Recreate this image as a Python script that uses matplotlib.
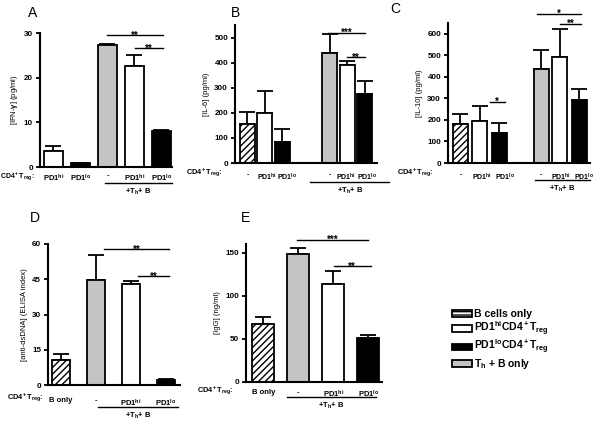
import numpy as np
import matplotlib
matplotlib.use("Agg")
import matplotlib.pyplot as plt
from matplotlib.patches import Patch
from matplotlib.transforms import ScaledTranslation

plt.rcParams['font.family'] = ['Liberation Sans', 'DejaVu Sans']
plt.rcParams['font.weight'] = 'bold'
plt.rcParams['mathtext.fontset'] = 'custom'
plt.rcParams['mathtext.rm'] = 'Liberation Sans:bold'
plt.rcParams['mathtext.it'] = 'Liberation Sans:bold'
plt.rcParams['mathtext.bf'] = 'Liberation Sans:bold'
plt.rcParams['mathtext.default'] = 'rm'
plt.rcParams['hatch.linewidth'] = 1.0

# data (mean, upper error)
ifng_labels = [r"PD1$^{hi}$", r"PD1$^{lo}$", "-", r"PD1$^{hi}$", r"PD1$^{lo}$"]
ifng_mean = [3.5, 0.9, 27.3, 22.7, 8.1]
ifng_err = [1.1, 0.1, 0.3, 2.4, 0.15]

il6_labels = ["-", r"PD1$^{hi}$", r"PD1$^{lo}$", "-", r"PD1$^{hi}$", r"PD1$^{lo}$"]
il6_mean = [155, 198, 85, 440, 390, 275]
il6_err = [50, 89, 52, 73, 15, 52]

il10_labels = ["-", r"PD1$^{hi}$", r"PD1$^{lo}$", "-", r"PD1$^{hi}$", r"PD1$^{lo}$"]
il10_mean = [183, 197, 140, 437, 493, 293]
il10_err = [45, 68, 48, 86, 127, 52]

dsdna_labels = ["B only", "-", r"PD1$^{hi}$", r"PD1$^{lo}$"]
dsdna_mean = [10.5, 44.8, 43.0, 2.3]
dsdna_err = [2.6, 10.7, 1.2, 0.3]

igg_labels = ["B only", "-", r"PD1$^{hi}$", r"PD1$^{lo}$"]
igg_mean = [67, 148, 114, 51]
igg_err = [8, 7, 15, 3]

GRAY = "#c4c4c4"
W, H = 601, 422
fig = plt.figure(figsize=(W / 100, H / 100), dpi=100)


def add_ax(x0, x1, ytop, ybot):
    return fig.add_axes([x0 / W, 1 - ybot / H, (x1 - x0) / W, (ybot - ytop) / H])


def panel(ax, x, mean, err, colors, hatches, width, labels, ylim, yticks, ylabel,
          grp, grp_y, tick_pad, lab_size=5.5):
    for xi, m, c, h in zip(x, mean, colors, hatches):
        ax.bar(xi, m, width=width, color=c, edgecolor='black', linewidth=1.3,
               hatch=h, zorder=2)
    ax.errorbar(x, mean, yerr=[np.zeros(len(err)), err], fmt='none',
                ecolor='black', elinewidth=1.3, capsize=6, capthick=1.3, zorder=1)
    ax.set_ylim(*ylim)
    ax.set_yticks(yticks)
    ax.set_xticks(x)
    ax.set_xticklabels(labels, fontsize=lab_size)
    ax.tick_params(axis='x', length=0, pad=tick_pad)
    ax.tick_params(axis='y', labelsize=5.8, width=1.3, length=3, pad=2)
    for s in ['top', 'right']:
        ax.spines[s].set_visible(False)
    for s in ['left', 'bottom']:
        ax.spines[s].set_linewidth(1.5)
    ax.set_ylabel(ylabel, fontsize=5.5, labelpad=3)
    trans = ax.get_xaxis_transform()
    ax.plot([grp[0], grp[1]], [grp_y, grp_y], color='black', lw=1.0,
            transform=trans, clip_on=False)
    ax.text((grp[0] + grp[1]) / 2, grp_y - 0.025, r"+T$_h$+ B", transform=trans,
            ha='center', va='top', fontsize=5.5)


def nudge(ax, idx, dx_px):
    lab = ax.get_xticklabels()[idx]
    lab.set_transform(lab.get_transform() + ScaledTranslation(dx_px / 100, 0, fig.dpi_scale_trans))


def sig(ax, x0, x1, y, s):
    ax.plot([x0, x1], [y, y], color='black', lw=1.0, clip_on=False)
    ax.annotate(s, ((x0 + x1) / 2, y), xytext=(0, -2.5), textcoords='offset points',
                ha='center', va='baseline', fontsize=7, annotation_clip=False)


def treg_label(x, y, ha='right', size=5.3):
    fig.text(x / W, 1 - y / H, r"CD4$^+$T$_{reg}$:", ha=ha, va='center',
             fontsize=size)


def letter(x, y, s):
    fig.text(x / W, 1 - y / H, s, ha='center', va='center', fontsize=10,
             fontweight='normal')


# A
ax = add_ax(40, 172, 33, 167)
x = np.arange(5)
panel(ax, x, ifng_mean, ifng_err, ['white', 'black', GRAY, 'white', 'black'],
      [None] * 5, 0.7, ifng_labels, (0, 30), [0, 10, 20, 30],
      r"[IFN-$\gamma$] (pg/ml)", (1.9, 4.4), -0.12, 4)
ax.set_xlim(-0.5, 4.39)
sig(ax, 1.98, 4.07, 29.5, "**")
sig(ax, 3.02, 4.07, 26.6, "**")
treg_label(0, 176.5, ha='left', size=5.0)
letter(33, 13, "A")

# B
ax = add_ax(235, 377, 25, 163)
x = np.array([0, 1, 2, 4.7, 5.7, 6.7])
panel(ax, x, il6_mean, il6_err, ['white', 'white', 'black', GRAY, 'white', 'black'],
      ['/////', None, None, None, None, None], 0.86, il6_labels, (0, 550),
      [0, 100, 200, 300, 400, 500], "[IL-6] (pg/ml)", (3.6, 8.1), -0.14, 6, 5.0)
ax.set_xlim(-0.71, 7.4)
nudge(ax, 1, 2)
nudge(ax, 2, 4)
nudge(ax, 4, -1)
nudge(ax, 5, 2)
sig(ax, 4.6, 6.7, 520, "***")
sig(ax, 5.7, 6.7, 421, "**")
treg_label(222, 173)
letter(236, 13, "B")

# C
ax = add_ax(448, 590, 23, 163)
x = np.array([0, 1, 2, 4.13, 5.1, 6.1])
panel(ax, x, il10_mean, il10_err, ['white', 'white', 'black', GRAY, 'white', 'black'],
      ['/////', None, None, None, None, None], 0.77, il10_labels, (0, 650),
      [0, 100, 200, 300, 400, 500, 600], "[IL-10] (pg/ml)", (3.82, 6.64),
      -0.12, 6, 5.0)
ax.set_xlim(-0.64, 6.64)
nudge(ax, 1, 2)
nudge(ax, 2, 5)
nudge(ax, 4, 1)
nudge(ax, 5, 4)
sig(ax, 1.5, 2.28, 284, "*")
sig(ax, 3.9, 6.2, 693, "*")
sig(ax, 5.1, 6.2, 647, "**")
treg_label(433, 173)
letter(395, 9, "C")

# D
ax = add_ax(48, 180, 244, 385)
x = np.arange(4)
panel(ax, x, dsdna_mean, dsdna_err, ['white', GRAY, 'white', 'black'],
      ['/////', None, None, None], 0.51, dsdna_labels, (0, 60),
      [0, 15, 30, 45, 60], "[anti-dsDNA] (ELISA index)", (1.07, 3.35),
      -0.155, 9)
ax.set_xlim(-0.37, 3.4)
sig(ax, 1.23, 3.1, 57.9, "**")
sig(ax, 2.2, 3.1, 46.4, "**")
treg_label(43, 398)
letter(35, 218, "D")

# E
ax = add_ax(246, 382, 244, 382)
x = np.arange(4)
panel(ax, x, igg_mean, igg_err, ['white', GRAY, 'white', 'black'],
      ['/////', None, None, None], 0.63, igg_labels, (0, 160),
      [0, 50, 100, 150], "[IgG] (ng/ml)", (0.67, 3.23), -0.11, 5)
ax.set_xlim(-0.5, 3.39)
sig(ax, 0.96, 2.99, 165, "***")
sig(ax, 2.01, 3.07, 134, "**")
treg_label(233, 391)
letter(245, 218, "E")

# legend
handles = [
    Patch(facecolor='white', edgecolor='black', hatch='-----', linewidth=1.3),
    Patch(facecolor='white', edgecolor='black', linewidth=1.3),
    Patch(facecolor='black', edgecolor='black', linewidth=1.3),
    Patch(facecolor=GRAY, edgecolor='black', linewidth=1.3),
]
names = ["B cells only", r"PD1$^{hi}$CD4$^+$T$_{reg}$",
         r"PD1$^{lo}$CD4$^+$T$_{reg}$", r"T$_h$ + B only"]
fig.legend(handles, names, loc='upper left', bbox_to_anchor=(452 / W, 1 - 309 / H),
           frameon=False, fontsize=7.5, handlelength=1.9, handleheight=0.6,
           handletextpad=0.25, labelspacing=0.05, borderpad=0, borderaxespad=0)

fig.savefig("out.png", dpi=100)
